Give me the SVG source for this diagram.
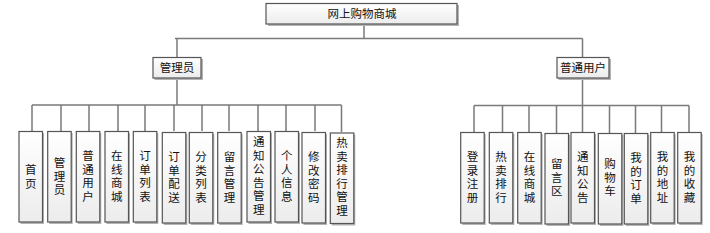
<svg xmlns="http://www.w3.org/2000/svg" width="710" height="233" viewBox="0 0 710 233">
<defs>
<linearGradient id="g" x1="0" y1="0" x2="0" y2="1">
<stop offset="0" stop-color="#ffffff"/>
<stop offset="1" stop-color="#ececec"/>
</linearGradient>
</defs>
<style>
.sh{fill:#b4b4b4;}
.bx{fill:url(#g);stroke:#555;stroke-width:1.2;}
.t{font-family:"Noto Sans CJK SC","Noto Sans",sans-serif;font-size:11.5px;fill:#111;text-anchor:middle;}
.ln{stroke:#7a7a7a;stroke-width:1.5;fill:none;}
</style>
<rect width="710" height="233" fill="#fff"/>
<g id="connectors">
<path class="ln" d="M364,24 V38.5 M175,38.5 H582.5 M177,38.5 V57 M582.5,38.5 V57"/>
<path class="ln" d="M177,78 V105 M32,105 H341.5 M32,105 V131 M61,105 V131 M89,105 V131 M118,105 V131 M145,105 V131 M174,105 V131 M202,105 V131 M229,105 V131 M258,105 V131 M286,105 V131 M315,105 V131 M341.5,105 V132"/>
<path class="ln" d="M582.5,78 V105.5 M474,105.5 H689 M474,105.5 V132 M502.5,105.5 V132 M529,105.5 V132 M556.5,105.5 V133 M582.5,105.5 V132 M609.5,105.5 V133 M635.5,105.5 V133 M661.5,105.5 V132 M689,105.5 V132"/>
</g>
<g id="root"><rect class="sh" x="268" y="5" width="191" height="21"/><rect class="bx" x="266" y="3.5" width="191" height="20.5"/><text class="t" x="362" y="18">网上购物商城</text></g>
<g id="admin"><rect class="sh" x="154.5" y="59" width="48.5" height="21"/><rect class="bx" x="153" y="57.5" width="48" height="20.5"/><text class="t" x="177" y="72">管理员</text></g>
<g id="user"><rect class="sh" x="558.5" y="59" width="52.5" height="21"/><rect class="bx" x="557" y="57.5" width="52" height="20.5"/><text class="t" x="583" y="72">普通用户</text></g>

<g id="a1"><rect class="sh" x="20.5" y="133" width="23.5" height="91"/><rect class="bx" x="19" y="131.5" width="23.5" height="90.5"/><text class="t"><tspan x="30.75" y="174">首</tspan><tspan x="30.75" dy="13.6">页</tspan></text></g>
<g id="a2"><rect class="sh" x="49.2" y="133" width="23.5" height="91"/><rect class="bx" x="47.7" y="131.5" width="23.5" height="90.5"/><text class="t"><tspan x="59.45" y="167">管</tspan><tspan x="59.45" dy="13.6">理</tspan><tspan x="59.45" dy="13.6">员</tspan></text></g>
<g id="a3"><rect class="sh" x="77.8" y="133" width="23.5" height="91"/><rect class="bx" x="76.3" y="131.5" width="23.5" height="90.5"/><text class="t"><tspan x="88.05" y="160">普</tspan><tspan x="88.05" dy="13.6">通</tspan><tspan x="88.05" dy="13.6">用</tspan><tspan x="88.05" dy="13.6">户</tspan></text></g>
<g id="a4"><rect class="sh" x="106.5" y="133" width="23.5" height="91"/><rect class="bx" x="105" y="131.5" width="23.5" height="90.5"/><text class="t"><tspan x="116.75" y="160">在</tspan><tspan x="116.75" dy="13.6">线</tspan><tspan x="116.75" dy="13.6">商</tspan><tspan x="116.75" dy="13.6">城</tspan></text></g>
<g id="a5"><rect class="sh" x="134.8" y="133" width="23.5" height="91"/><rect class="bx" x="133.3" y="131.5" width="23.5" height="90.5"/><text class="t"><tspan x="145.05" y="160">订</tspan><tspan x="145.05" dy="13.6">单</tspan><tspan x="145.05" dy="13.6">列</tspan><tspan x="145.05" dy="13.6">表</tspan></text></g>
<g id="a6"><rect class="sh" x="163.8" y="134" width="23.5" height="91"/><rect class="bx" x="162.3" y="132.5" width="23.5" height="90.5"/><text class="t"><tspan x="174.05" y="161">订</tspan><tspan x="174.05" dy="13.6">单</tspan><tspan x="174.05" dy="13.6">配</tspan><tspan x="174.05" dy="13.6">送</tspan></text></g>
<g id="a7"><rect class="sh" x="190.8" y="134" width="23.5" height="91"/><rect class="bx" x="189.3" y="132.5" width="23.5" height="90.5"/><text class="t"><tspan x="201.05" y="161">分</tspan><tspan x="201.05" dy="13.6">类</tspan><tspan x="201.05" dy="13.6">列</tspan><tspan x="201.05" dy="13.6">表</tspan></text></g>
<g id="a8"><rect class="sh" x="219.2" y="134" width="23.5" height="91"/><rect class="bx" x="217.7" y="132.5" width="23.5" height="90.5"/><text class="t"><tspan x="229.45" y="161">留</tspan><tspan x="229.45" dy="13.6">言</tspan><tspan x="229.45" dy="13.6">管</tspan><tspan x="229.45" dy="13.6">理</tspan></text></g>
<g id="a9"><rect class="sh" x="248.5" y="133" width="23.5" height="91"/><rect class="bx" x="247" y="131.5" width="23.5" height="90.5"/><text class="t"><tspan x="258.75" y="146">通</tspan><tspan x="258.75" dy="13.6">知</tspan><tspan x="258.75" dy="13.6">公</tspan><tspan x="258.75" dy="13.6">告</tspan><tspan x="258.75" dy="13.6">管</tspan><tspan x="258.75" dy="13.6">理</tspan></text></g>
<g id="a10"><rect class="sh" x="276.5" y="133" width="23.5" height="91"/><rect class="bx" x="275" y="131.5" width="23.5" height="90.5"/><text class="t"><tspan x="286.75" y="160">个</tspan><tspan x="286.75" dy="13.6">人</tspan><tspan x="286.75" dy="13.6">信</tspan><tspan x="286.75" dy="13.6">息</tspan></text></g>
<g id="a11"><rect class="sh" x="303.5" y="134" width="23.5" height="91"/><rect class="bx" x="302" y="132.5" width="23.5" height="90.5"/><text class="t"><tspan x="313.75" y="161">修</tspan><tspan x="313.75" dy="13.6">改</tspan><tspan x="313.75" dy="13.6">密</tspan><tspan x="313.75" dy="13.6">码</tspan></text></g>
<g id="a12"><rect class="sh" x="331.8" y="134.5" width="23.5" height="91"/><rect class="bx" x="330.3" y="133" width="23.5" height="90.5"/><text class="t"><tspan x="342.05" y="147">热</tspan><tspan x="342.05" dy="13.6">卖</tspan><tspan x="342.05" dy="13.6">排</tspan><tspan x="342.05" dy="13.6">行</tspan><tspan x="342.05" dy="13.6">管</tspan><tspan x="342.05" dy="13.6">理</tspan></text></g>

<g id="u1"><rect class="sh" x="462.2" y="134" width="23.5" height="91"/><rect class="bx" x="460.7" y="132.5" width="23.5" height="90.5"/><text class="t"><tspan x="472.45" y="161">登</tspan><tspan x="472.45" dy="13.6">录</tspan><tspan x="472.45" dy="13.6">注</tspan><tspan x="472.45" dy="13.6">册</tspan></text></g>
<g id="u2"><rect class="sh" x="490.8" y="134" width="23.5" height="91"/><rect class="bx" x="489.3" y="132.5" width="23.5" height="90.5"/><text class="t"><tspan x="501.05" y="161">热</tspan><tspan x="501.05" dy="13.6">卖</tspan><tspan x="501.05" dy="13.6">排</tspan><tspan x="501.05" dy="13.6">行</tspan></text></g>
<g id="u3"><rect class="sh" x="519.2" y="134" width="23.5" height="91"/><rect class="bx" x="517.7" y="132.5" width="23.5" height="90.5"/><text class="t"><tspan x="529.45" y="161">在</tspan><tspan x="529.45" dy="13.6">线</tspan><tspan x="529.45" dy="13.6">商</tspan><tspan x="529.45" dy="13.6">城</tspan></text></g>
<g id="u4"><rect class="sh" x="546.5" y="135" width="23.5" height="91"/><rect class="bx" x="545" y="133.5" width="23.5" height="90.5"/><text class="t"><tspan x="556.75" y="168">留</tspan><tspan x="556.75" dy="13.6">言</tspan><tspan x="556.75" dy="13.6">区</tspan></text></g>
<g id="u5"><rect class="sh" x="572.5" y="134" width="23.5" height="91"/><rect class="bx" x="571" y="132.5" width="23.5" height="90.5"/><text class="t"><tspan x="582.75" y="161">通</tspan><tspan x="582.75" dy="13.6">知</tspan><tspan x="582.75" dy="13.6">公</tspan><tspan x="582.75" dy="13.6">告</tspan></text></g>
<g id="u6"><rect class="sh" x="599.8" y="135" width="23.5" height="91"/><rect class="bx" x="598.3" y="133.5" width="23.5" height="90.5"/><text class="t"><tspan x="610.05" y="168">购</tspan><tspan x="610.05" dy="13.6">物</tspan><tspan x="610.05" dy="13.6">车</tspan></text></g>
<g id="u7"><rect class="sh" x="625.8" y="135" width="23.5" height="91"/><rect class="bx" x="624.3" y="133.5" width="23.5" height="90.5"/><text class="t"><tspan x="636.05" y="162">我</tspan><tspan x="636.05" dy="13.6">的</tspan><tspan x="636.05" dy="13.6">订</tspan><tspan x="636.05" dy="13.6">单</tspan></text></g>
<g id="u8"><rect class="sh" x="652.2" y="134" width="23.5" height="91"/><rect class="bx" x="650.7" y="132.5" width="23.5" height="90.5"/><text class="t"><tspan x="662.45" y="161">我</tspan><tspan x="662.45" dy="13.6">的</tspan><tspan x="662.45" dy="13.6">地</tspan><tspan x="662.45" dy="13.6">址</tspan></text></g>
<g id="u9"><rect class="sh" x="679.2" y="134" width="23.5" height="91"/><rect class="bx" x="677.7" y="132.5" width="23.5" height="90.5"/><text class="t"><tspan x="689.45" y="161">我</tspan><tspan x="689.45" dy="13.6">的</tspan><tspan x="689.45" dy="13.6">收</tspan><tspan x="689.45" dy="13.6">藏</tspan></text></g>
</svg>
